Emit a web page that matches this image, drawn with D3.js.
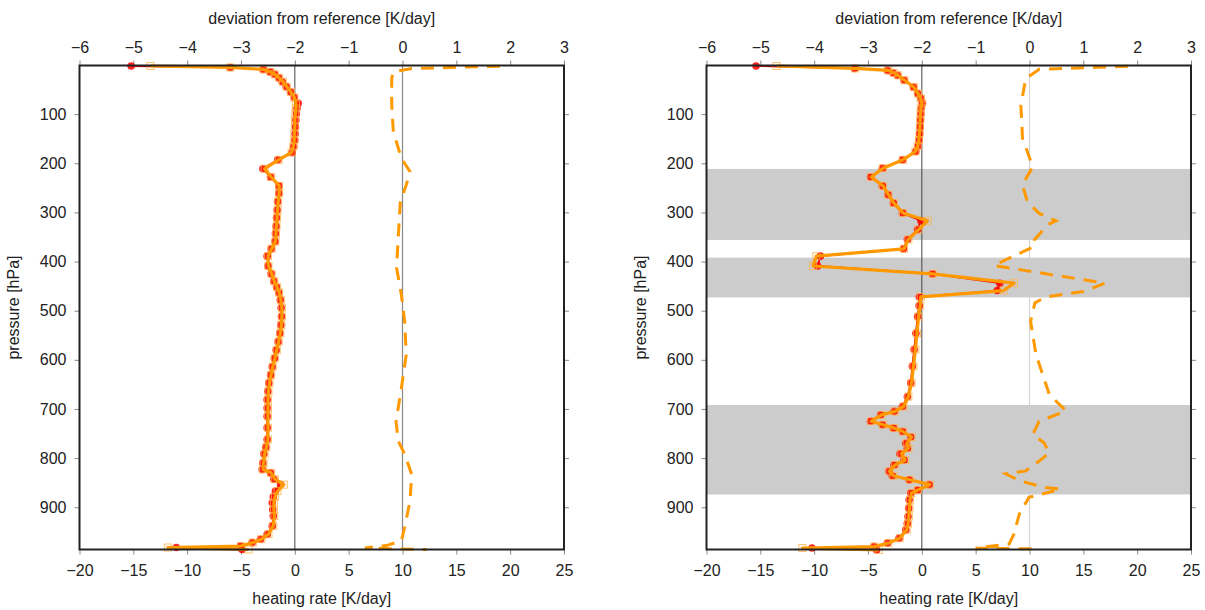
<!DOCTYPE html>
<html>
<head>
<meta charset="utf-8">
<script src="https://cdn.jsdelivr.net/npm/d3@7"></script>
<style>
  body { margin: 0; background: #fff; }
  svg text { font-family: "Liberation Sans", Arial, Helvetica, sans-serif; fill: #222; }
  .axis .domain { display: none; }
  .axis line { stroke: #888; }
  .axis text { font-size: 16px; }
  .title { font-size: 16px; }
</style>
</head>
<body>
<svg width="1205" height="610"></svg>
<script>

// ---- data ----
var heatTicks = [-20, -15, -10, -5, 0, 5, 10, 15, 20, 25];
var devTicks = [-6, -5, -4, -3, -2, -1, 0, 1, 2, 3];
var pTicks = [100, 200, 300, 400, 500, 600, 700, 800, 900];

// left panel: heating rate profiles [K/day]
var leftP = [2, 5, 9, 14, 19, 26, 34, 44, 55, 66, 78, 88, 99, 112, 126, 140, 153, 166, 178, 193,
  211, 228, 246, 261, 278, 295, 311, 328, 343, 359, 374, 389, 409, 425, 440, 452, 463, 478, 494,
  512, 529, 546, 563, 580, 597, 614, 631, 647, 664, 681, 698, 715, 738, 762, 778, 791, 810, 823,
  830, 843, 854, 867, 879, 891, 905, 918, 938, 955, 965, 972, 979, 982, 986];
var leftRed = [-15.2, -6.0, -2.94, -2.3, -1.89, -1.5, -1.18, -0.8, -0.4, -0.05, 0.31, 0.2, 0.15, 0.1,
  0.06, 0.03, 0.0, -0.1, -0.25, -1.58, -2.97, -2.26, -1.49, -1.49, -1.6, -1.64, -1.7, -1.73, -1.8,
  -1.83, -2.2, -2.57, -2.48, -2.2, -1.95, -1.7, -1.49, -1.35, -1.27, -1.24, -1.3, -1.39, -1.55,
  -1.73, -1.9, -2.1, -2.25, -2.41, -2.5, -2.57, -2.57, -2.57, -2.57, -2.57, -2.7, -2.88, -2.97,
  -3.03, -2.26, -1.95, -1.33, -1.8, -2.0, -2.1, -2.05, -2.0, -2.1, -2.57, -3.19, -3.96, -5.05,
  -11.0, -4.9];
var leftOrange = [-13.4, -6.0, -2.9, -2.25, -1.85, -1.45, -1.1, -0.75, -0.35, -0.05, 0.1, 0.1, 0.05,
  0.0, 0.0, -0.05, -0.05, -0.15, -0.3, -1.5, -2.8, -2.2, -1.45, -1.45, -1.55, -1.6, -1.65, -1.7,
  -1.75, -1.8, -2.15, -2.5, -2.45, -2.15, -1.9, -1.65, -1.45, -1.3, -1.2, -1.2, -1.25, -1.35, -1.5,
  -1.68, -1.85, -2.05, -2.2, -2.35, -2.45, -2.5, -2.5, -2.5, -2.5, -2.5, -2.65, -2.8, -2.9, -2.95,
  -2.2, -1.85, -1.02, -1.6, -1.85, -1.95, -1.95, -1.9, -2.0, -2.45, -3.1, -3.9, -5.0, -11.8, -4.3];

// left panel: deviation from reference [K/day]
var leftDevP = [2.5, 7, 14, 27, 82, 136, 190, 217, 244, 278, 352, 413, 468, 522, 589, 657, 725, 765,
  792, 833, 887, 941, 968, 978, 983, 986];
var leftDev = [1.81, 0.17, -0.17, -0.2, -0.2, -0.17, -0.02, 0.14, 0.07, -0.04, -0.08, -0.11, -0.02,
  0.04, 0.07, -0.02, -0.12, -0.08, 0.04, 0.17, 0.14, 0.04, -0.02, -0.3, -0.7, 0.45];

// right panel: heating rate profiles [K/day]
var rightP = [2, 7, 11, 16, 21, 31, 45, 58, 68, 78, 88, 99, 112, 126, 140, 153, 165, 176, 193, 210,
  228, 246, 264, 281, 301, 317, 335, 355, 374, 389, 409, 425, 444, 459, 472, 490, 512, 546, 579,
  613, 647, 675, 695, 705, 712, 725, 732, 739, 746, 757, 770, 780, 791, 804, 814, 827, 836, 844,
  854, 865, 871, 885, 902, 919, 933, 946, 963, 973, 980, 983, 987];
var rightRed = [-15.4, -6.25, -3.2, -2.7, -2.27, -1.65, -0.78, -0.4, -0.1, 0.06, -0.05, -0.09, -0.12,
  -0.16, -0.2, -0.25, -0.35, -0.56, -1.8, -3.67, -4.76, -3.67, -3.14, -2.64, -1.8, -0.09, -0.4,
  -1.34, -1.71, -9.42, -9.67, 1.0, 7.24, 7.0, -0.23, -0.25, -0.4, -0.55, -0.72, -0.88, -1.03,
  -1.34, -1.8, -2.58, -3.83, -4.76, -3.67, -2.64, -1.8, -1.03, -1.49, -1.34, -2.02, -1.65, -2.58,
  -3.05, -2.74, -1.18, 0.68, -0.4, -1.03, -1.18, -1.22, -1.28, -1.35, -1.49, -2.12, -3.2, -4.45,
  -10.2, -4.2];
var rightOrange = [-13.5, -6.2, -3.1, -2.6, -2.2, -1.6, -0.75, -0.35, -0.1, 0.0, -0.1, -0.12, -0.15,
  -0.18, -0.22, -0.27, -0.38, -0.6, -1.75, -3.6, -4.7, -3.6, -3.1, -2.6, -1.75, 0.53, -0.3, -1.25,
  -1.65, -9.8, -10.1, 1.0, 8.57, 7.6, -0.1, -0.15, -0.3, -0.45, -0.6, -0.78, -0.95, -1.25, -1.7,
  -2.5, -3.75, -4.7, -3.6, -2.55, -1.75, -0.95, -1.4, -1.25, -1.9, -1.55, -2.5, -3.0, -2.65, -1.1,
  0.75, -0.35, -0.95, -1.1, -1.15, -1.2, -1.28, -1.4, -2.05, -3.1, -4.4, -11.1, -4.0];

// right panel: deviation from reference [K/day]
var rightDevP = [2.5, 8.6, 27.6, 82, 149, 207, 244, 278, 302, 317, 325, 356, 369, 390, 408, 444, 461,
  472, 484, 522, 589, 671, 704, 725, 752, 769, 789, 806, 826, 832, 846, 860, 863, 880, 914, 955,
  975, 983, 985];
var rightDev = [1.83, 0.18, -0.07, -0.16, -0.13, 0.06, -0.13, -0.04, 0.18, 0.49, 0.34, 0.09, 0.09,
  -0.32, -0.66, 1.4, 1.0, 0.3, 0.1, 0.02, 0.12, 0.37, 0.68, 0.18, 0.06, 0.27, 0.37, 0.18, -0.07,
  -0.44, -0.19, 0.3, 0.58, -0.01, -0.19, -0.29, -0.38, -1.0, 0.2];

// grey bands in the right panel [hPa]
var bandTop = [211.5, 392, 692];
var bandBottom = [356, 473, 874];

// ---- drawing ----
var svg = d3.select("svg");
var plotTop = 65.5, plotBottom = 549.5;
var y = d3.scaleLinear().domain([1, 986]).range([plotTop, plotBottom]);

function drawPanel(left, right, prof, devs, bands, lightRef) {
  var x = d3.scaleLinear().domain([-20, 25]).range([left, right]);
  var xd = d3.scaleLinear().domain([-6, 3]).range([left, right]);
  var g = svg.append("g");
  var cx = (left + right) / 2;

  // reference line at zero deviation
  g.append("line").attr("x1", x(10)).attr("x2", x(10)).attr("y1", plotTop).attr("y2", plotBottom)
    .attr("stroke", lightRef ? "#d4d4d4" : "#888").attr("stroke-width", 1.2);

  // shaded layers
  if (bands) {
    g.selectAll("rect.band").data(bands.top).enter().append("rect")
      .attr("class", "band")
      .attr("x", left).attr("width", right - left)
      .attr("y", function (d) { return y(d); })
      .attr("height", function (d, i) { return y(bands.bottom[i]) - y(d); })
      .attr("fill", "#cccccc");
  }

  g.append("line").attr("x1", x(0)).attr("x2", x(0)).attr("y1", plotTop).attr("y2", plotBottom)
    .attr("stroke", "#444").attr("stroke-width", 1);

  // axes
  g.append("g").attr("class", "axis").attr("transform", "translate(0," + plotBottom + ")")
    .call(d3.axisBottom(x).tickValues(heatTicks).tickSize(5).tickPadding(10));
  g.append("g").attr("class", "axis").attr("transform", "translate(0," + plotTop + ")")
    .call(d3.axisTop(xd).tickValues(devTicks).tickSize(5).tickPadding(8));
  g.append("g").attr("class", "axis").attr("transform", "translate(" + left + ",0)")
    .call(d3.axisLeft(y).tickValues(pTicks).tickSize(5).tickPadding(8));
  g.append("g").attr("class", "axis").attr("transform", "translate(" + right + ",0)")
    .call(d3.axisRight(y).tickValues(pTicks).tickSize(5).tickFormat(""));

  // deviation (dashed)
  var devLine = d3.line().x(function (d) { return xd(d[1]); }).y(function (d) { return y(d[0]); });
  g.append("path").datum(d3.zip(devs.p, devs.v)).attr("d", devLine)
    .attr("fill", "none").attr("stroke", "#ff9900").attr("stroke-width", 3)
    .attr("stroke-dasharray", "13,9");

  var line = d3.line().x(function (d) { return x(d[1]); }).y(function (d) { return y(d[0]); });
  var red = d3.zip(prof.p, prof.red), orange = d3.zip(prof.p, prof.orange);

  g.append("path").datum(red).attr("d", line)
    .attr("fill", "none").attr("stroke", "#ee0000").attr("stroke-width", 1.8);
  g.selectAll("circle.red").data(red).enter().append("circle")
    .attr("class", "red")
    .attr("cx", function (d) { return x(d[1]); })
    .attr("cy", function (d) { return y(d[0]); })
    .attr("r", 3.8).attr("fill", "#ff0000").attr("fill-opacity", 0.85);
  g.selectAll("rect.sq").data(orange).enter().append("rect")
    .attr("class", "sq")
    .attr("x", function (d) { return x(d[1]) - 3.5; })
    .attr("y", function (d) { return y(d[0]) - 3.5; })
    .attr("width", 7).attr("height", 7)
    .attr("fill", "none").attr("stroke", "#ffb347").attr("stroke-opacity", 0.8);
  g.append("path").datum(orange).attr("d", line)
    .attr("fill", "none").attr("stroke", "#ff9900").attr("stroke-width", 3.2)
    .attr("stroke-linejoin", "round");

  // frame
  g.append("rect").attr("x", left).attr("y", plotTop)
    .attr("width", right - left).attr("height", plotBottom - plotTop)
    .attr("fill", "none").attr("stroke", "#222").attr("stroke-width", 2);

  // titles
  g.append("text").attr("class", "title").attr("x", cx).attr("y", 24)
    .attr("text-anchor", "middle").text("deviation from reference [K/day]");
  g.append("text").attr("class", "title").attr("x", cx).attr("y", 604)
    .attr("text-anchor", "middle").text("heating rate [K/day]");
  g.append("text").attr("class", "title")
    .attr("transform", "translate(" + (left - 61) + "," + ((plotTop + plotBottom) / 2) + ") rotate(-90)")
    .attr("text-anchor", "middle").text("pressure [hPa]");
}

drawPanel(79.5, 564,
  { p: leftP, red: leftRed, orange: leftOrange },
  { p: leftDevP, v: leftDev }, null, false);
drawPanel(706.5, 1191,
  { p: rightP, red: rightRed, orange: rightOrange },
  { p: rightDevP, v: rightDev }, { top: bandTop, bottom: bandBottom }, true);

</script>
</body>
</html>
